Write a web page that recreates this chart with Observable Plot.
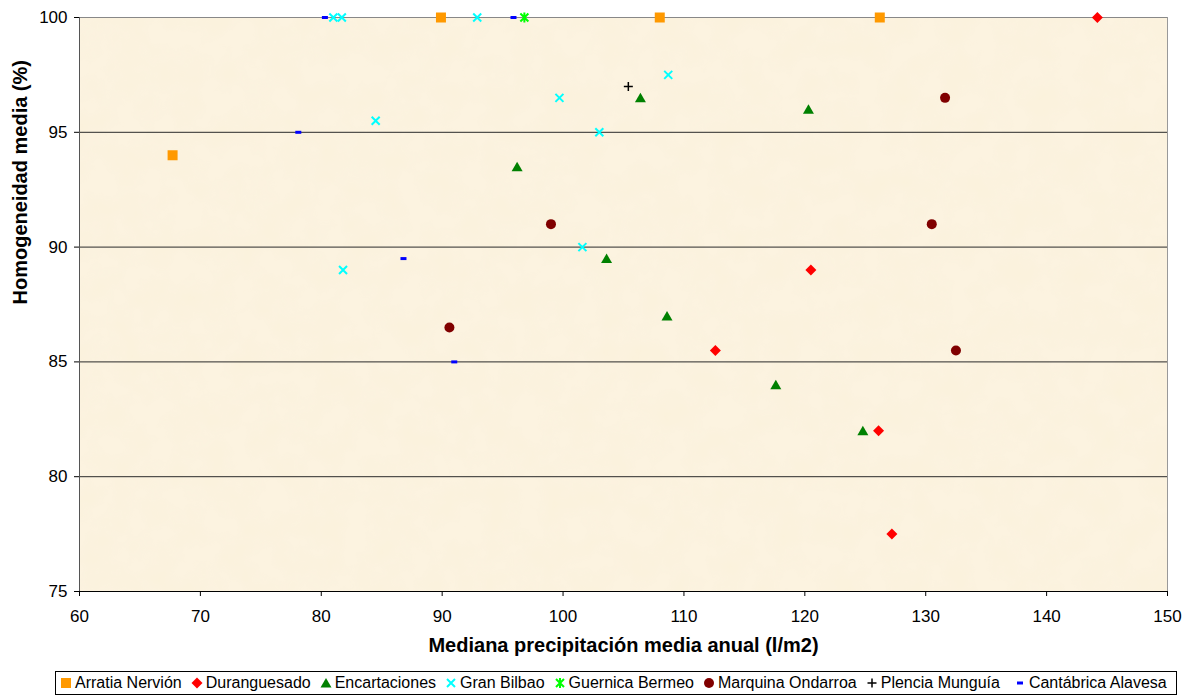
<!DOCTYPE html>
<html>
<head>
<meta charset="utf-8">
<script src="https://cdn.jsdelivr.net/npm/d3@7"></script>
<script src="https://cdn.jsdelivr.net/npm/@observablehq/plot@0.6"></script>
<style>
  html, body { margin: 0; padding: 0; background: #fff; }
  body { width: 1186px; height: 696px; position: relative; overflow: hidden; font-family: "Liberation Sans", Arial, sans-serif; }
  #legend { position: absolute; left: 55px; top: 671px; width: 1122px; height: 24px; box-sizing: border-box;
            border: 1px solid #000; display: flex; align-items: center; padding-left: 4px;
            font-size: 16px; color: #000; white-space: nowrap; }
  #legend .item { display: flex; align-items: center; margin-right: 9px; }
  #legend svg { width: 12px; height: 12px; flex: none; }
  #legend span { margin-left: 3px; }
</style>
</head>
<body>
<div id="chart"></div>
<div id="legend"></div>
<script>
// ---- Data ----
const seriesNames = ["Arratia Nervión", "Duranguesado", "Encartaciones", "Gran Bilbao",
                     "Guernica Bermeo", "Marquina Ondarroa", "Plencia Munguía", "Cantábrica Alavesa"];
const arratiaNervion = [[67.7, 94.0], [89.9, 100], [108.0, 100], [126.2, 100]];
const duranguesado = [[144.2, 100], [120.5, 89.0], [112.6, 85.5], [126.1, 82.0], [127.2, 77.5]];
const encartaciones = [[96.2, 93.5], [106.4, 96.5], [120.3, 96.0], [103.6, 89.5], [108.6, 87.0], [117.6, 84.0], [124.8, 82.0]];
const granBilbao = [[81.0, 100], [81.7, 100], [92.9, 100], [84.5, 95.5], [81.8, 89.0], [99.7, 96.5], [108.7, 97.5], [103.0, 95.0], [101.6, 90.0]];
const guernicaBermeo = [[96.8, 100]];
const marquinaOndarroa = [[90.6, 86.5], [99.0, 91.0], [131.6, 96.5], [130.5, 91.0], [132.5, 85.5]];
const plenciaMunguia = [[105.4, 97.0]];
const cantabricaAlavesa = [[80.3, 100], [95.9, 100], [78.1, 95.0], [86.8, 89.5], [91.0, 85.0]];
const xTicks = [60, 70, 80, 90, 100, 110, 120, 130, 140, 150];
const yTicks = [75, 80, 85, 90, 95, 100];
const gridY = [80, 85, 90, 95];
const xLabel = "Mediana precipitación media anual (l/m2)";
const yLabel = "Homogeneidad media (%)";

// ---- Marker shapes ----
const symSquare = {draw(c) { c.rect(-5, -5, 10, 10); }};
const symDiamond = {draw(c) { c.moveTo(0, -5.5); c.lineTo(5.5, 0); c.lineTo(0, 5.5); c.lineTo(-5.5, 0); c.closePath(); }};
const symTriangle = {draw(c) { c.moveTo(0, -5); c.lineTo(5.5, 4.5); c.lineTo(-5.5, 4.5); c.closePath(); }};
const symTimes = {draw(c) { c.moveTo(-4, -4); c.lineTo(4, 4); c.moveTo(4, -4); c.lineTo(-4, 4); }};
const symAsterisk = {draw(c) { c.moveTo(-4, -4); c.lineTo(4, 4); c.moveTo(4, -4); c.lineTo(-4, 4); c.moveTo(0, -5); c.lineTo(0, 5); }};
const symCircle = {draw(c) { c.moveTo(5, 0); c.arc(0, 0, 5, 0, 2 * Math.PI); }};
const symPlus = {draw(c) { c.moveTo(-4.5, 0); c.lineTo(4.5, 0); c.moveTo(0, -4.5); c.lineTo(0, 4.5); }};
const symDash = {draw(c) { c.rect(-3, -1.5, 6, 3); }};

const styles = [
  {data: arratiaNervion, symbol: symSquare, fill: "#FF9900", stroke: "none", sw: 0},
  {data: duranguesado, symbol: symDiamond, fill: "#FF0000", stroke: "none", sw: 0},
  {data: encartaciones, symbol: symTriangle, fill: "#008000", stroke: "none", sw: 0},
  {data: granBilbao, symbol: symTimes, fill: "none", stroke: "#00FFFF", sw: 2},
  {data: guernicaBermeo, symbol: symAsterisk, fill: "none", stroke: "#00FF00", sw: 2},
  {data: marquinaOndarroa, symbol: symCircle, fill: "#800000", stroke: "none", sw: 0},
  {data: plenciaMunguia, symbol: symPlus, fill: "none", stroke: "#000000", sw: 1.5},
  {data: cantabricaAlavesa, symbol: symDash, fill: "#0000FF", stroke: "none", sw: 0}
];

const chart = Plot.plot({
  width: 1186,
  height: 668,
  marginLeft: 79,
  marginRight: 19,
  marginTop: 17,
  marginBottom: 77,
  style: {fontFamily: "'Liberation Sans', Arial, sans-serif", fontSize: "17px", color: "#000", background: "transparent", overflow: "visible"},
  x: {domain: [60, 150]},
  y: {domain: [75, 100]},
  marks: [
    Plot.frame({fill: "#FCF3E0", stroke: "none"}),
    Plot.ruleY(gridY, {stroke: "#2a2a2a", strokeWidth: 1}),
    Plot.ruleY([100], {stroke: "#888888"}),
    Plot.ruleX([150], {stroke: "#999999"}),
    Plot.ruleX([60], {stroke: "#555555"}),
    Plot.ruleY([75], {stroke: "#000000"}),
    Plot.axisX({ticks: xTicks, tickSize: 5, tickPadding: 13, label: null, fontSize: 17, tickFormat: d => String(d)}),
    Plot.axisY({ticks: yTicks, tickSize: 5, tickPadding: 7, label: null, fontSize: 17, tickFormat: d => String(d)}),
    Plot.text([xLabel], {frameAnchor: "bottom", lineAnchor: "middle", dy: 54, fontWeight: "bold", fontSize: 20, fill: "#000"}),
    Plot.text([yLabel], {frameAnchor: "left", lineAnchor: "middle", rotate: -90, dx: -59, fontWeight: "bold", fontSize: 20, fill: "#000"}),
    ...styles.map(s => Plot.dot(s.data, {x: d => d[0], y: d => d[1], symbol: s.symbol, r: 5,
      fill: s.fill, stroke: s.stroke, strokeWidth: s.sw}))
  ]
});
document.getElementById("chart").appendChild(chart);

// paper texture on the plot background
const ns = "http://www.w3.org/2000/svg";
const defs = document.createElementNS(ns, "defs");
defs.innerHTML = `
<filter id="paper" x="0" y="0" width="1" height="1">
  <feTurbulence type="fractalNoise" baseFrequency="0.035" numOctaves="3" seed="7" result="n"/>
  <feColorMatrix in="n" type="matrix" values="0 0 0 0 0.96  0 0 0 0 0.88  0 0 0 0 0.70  0 0 0 -1.2 0.75" result="t"/>
  <feComposite in="t" in2="SourceGraphic" operator="in" result="tc"/>
  <feMerge><feMergeNode in="SourceGraphic"/><feMergeNode in="tc"/></feMerge>
</filter>`;
chart.insertBefore(defs, chart.firstChild);
const frameEl = chart.querySelector('[aria-label="frame"]');
if (frameEl) frameEl.setAttribute("filter", "url(#paper)");

// legend
const legend = document.getElementById("legend");
styles.forEach((s, i) => {
  const item = document.createElement("div");
  item.className = "item";
  if (i === styles.length - 1) item.style.marginLeft = "5px";
  const p = d3.path();
  s.symbol.draw(p, 25);
  const svg = document.createElementNS(ns, "svg");
  svg.setAttribute("viewBox", "-6 -6 12 12");
  const path = document.createElementNS(ns, "path");
  path.setAttribute("d", p.toString());
  path.setAttribute("fill", s.fill);
  path.setAttribute("stroke", s.stroke);
  path.setAttribute("stroke-width", s.sw);
  svg.appendChild(path);
  item.appendChild(svg);
  const span = document.createElement("span");
  span.textContent = seriesNames[i];
  item.appendChild(span);
  legend.appendChild(item);
});
</script>
</body>
</html>
